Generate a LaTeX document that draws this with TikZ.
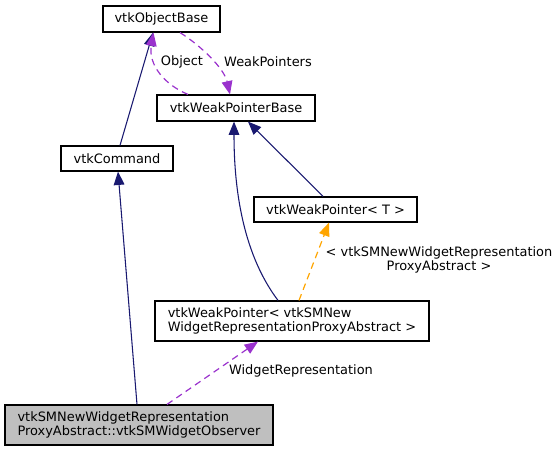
\documentclass[tikz,border=0pt]{standalone}
\usepackage{fontspec}
\setmainfont{DejaVu Sans}
\usetikzlibrary{calc}
\usetikzlibrary{arrows.meta}
\definecolor{inhblue}{RGB}{25,25,112}
\definecolor{usepurple}{RGB}{154,50,205}
\definecolor{tmplorange}{RGB}{255,165,0}
\definecolor{boxgray}{RGB}{191,191,191}
\tikzstyle{cls}=[draw=black, line width=0.9pt, inner sep=0pt, align=left, font=\fontsize{9.7}{10.5}\selectfont]
\tikzstyle{lbl}=[inner sep=0pt, font=\fontsize{9.7}{10.5}\selectfont]
\tikzstyle{inh}=[draw=inhblue, line width=0.8pt, -{Triangle[length=10pt,width=8pt]}, inhblue]
\tikzstyle{usage}=[draw=usepurple, line width=0.9pt, dash pattern=on 5pt off 3.5pt, -{Triangle[length=10pt,width=8pt]}, usepurple]
\tikzstyle{tmpl}=[draw=tmplorange, line width=0.9pt, dash pattern=on 5pt off 3.5pt, -{Triangle[length=10pt,width=8pt]}, tmplorange]

\begin{document}
\begin{tikzpicture}[x=0.75pt, y=-0.75pt]
		\useasboundingbox (0,0) rectangle (560,451);
		\node(objbase)[cls, minimum width=87.75pt, minimum height=19.5pt] at (161.5, 19) {vtkObjectBase};
		\node(wpbase)[cls, minimum width=118.5pt, minimum height=19.5pt] at (236, 108) {vtkWeakPointerBase};
		\node(command)[cls, minimum width=84pt, minimum height=18.75pt] at (117, 158.5) {vtkCommand};
		\node(wpT)[cls, minimum width=122.25pt, minimum height=18.75pt] at (335.5, 209.5) {vtkWeakPointer< T >};
		\node(wpSM)[cls, minimum width=205.5pt, minimum height=30pt] at (292, 321) {vtkWeakPointer< vtkSMNew\\WidgetRepresentationProxyAbstract >};
		\node(observer)[cls, fill=boxgray, minimum width=201pt, minimum height=30pt] at (139, 425) {vtkSMNewWidgetRepresentation\\ProxyAbstract::vtkSMWidgetObserver};
		%%%%%%%
		\node(lobject)[lbl] at (182, 62) {Object};
		\node(lweak)[lbl] at (268, 62) {WeakPointers};
		\node(ltmpl)[lbl, align=center] at (439, 260) {< vtkSMNewWidgetRepresentation\\ProxyAbstract >};
		\node(lwidget)[lbl] at (301, 371) {WidgetRepresentation};
		%%%%%%%
		\draw[inh] ($(command.north)+(3,0)$) -- ($(objbase.south)+(-8.5,0)$);
		\draw[usage] ($(wpbase.north)+(-48,0)$) .. controls (165,85) and (148,65) .. ($(objbase.south)+(-8,0)$);
		\draw[usage] ($(objbase.south)+(18.5,0)$) .. controls (200,45) and (224,68) .. ($(wpbase.north)+(-6,0)$);
		%%%%%%%
		\draw[inh] ($(wpSM.north)+(-14,0)$) .. controls (240,250) and (234,180) .. ($(wpbase.south)+(-2,0)$);
		\draw[inh] ($(wpT.north)+(-12.5,0)$) -- ($(wpbase.south)+(12,0)$);
		\draw[tmpl] ($(wpSM.north)+(7,0)$) -- ($(wpT.south)+(-6.5,0)$);
		%%%%%%%
		\draw[usage] ($(observer.north)+(28,0)$) -- ($(wpSM.south)+(-34,0)$);
		\draw[inh] ($(observer.north)+(-2,0)$) -- ($(command.south)+(1,0)$);
\end{tikzpicture}
\end{document}
